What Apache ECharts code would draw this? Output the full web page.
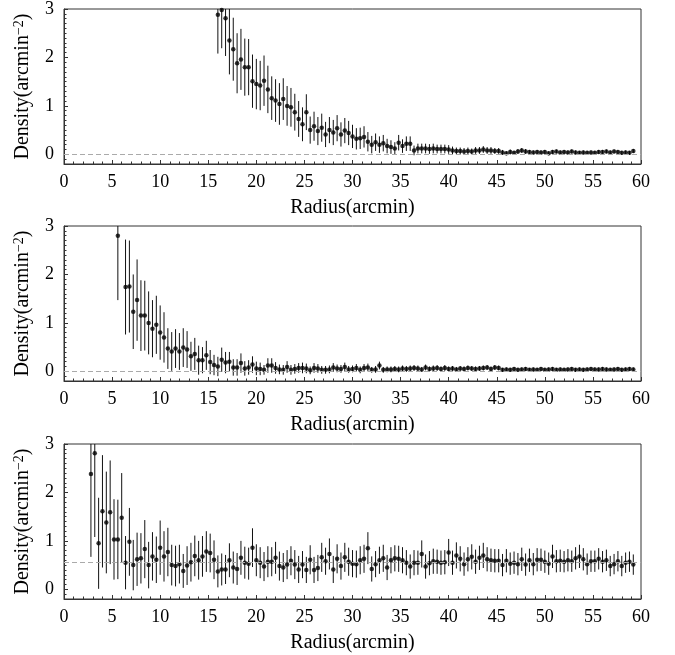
<!DOCTYPE html>
<html>
<head>
<meta charset="utf-8">
<script src="https://cdn.jsdelivr.net/npm/echarts@6/dist/echarts.min.js"></script>
<style>
html,body{margin:0;padding:0;background:#fff;}
#chart{width:675px;height:655px;}
</style>
</head>
<body>
<div id="chart"></div>
<script>
// ---------- DATA ----------
// Panel 1
var radius1 = [
 16.0,16.4,16.8,17.2,17.6,18.0,18.4,18.8,19.2,19.6,
 20.0,20.4,20.8,21.2,21.6,22.0,22.4,22.8,23.2,23.6,
 24.0,24.4,24.8,25.2,25.6,26.0,26.4,26.8,27.2,27.6,
 28.0,28.4,28.8,29.2,29.6,30.0,30.4,30.8,31.2,31.6,
 32.0,32.4,32.8,33.2,33.6,34.0,34.4,34.8,35.2,35.6,
 36.0,36.4,36.8,37.2,37.6,38.0,38.4,38.8,39.2,39.6,
 40.0,40.4,40.8,41.2,41.6,42.0,42.4,42.8,43.2,43.6,
 44.0,44.4,44.8,45.2,45.6,46.0,46.4,46.8,47.2,47.6,
 48.0,48.4,48.8,49.2,49.6,50.0,50.4,50.8,51.2,51.6,
 52.0,52.4,52.8,53.2,53.6,54.0,54.4,54.8,55.2,55.6,
 56.0,56.4,56.8,57.2,57.6,58.0,58.4,58.8,59.2
];
var density1 = [
 2.88,2.98,2.81,2.35,2.17,1.88,1.96,1.80,1.80,1.51,
 1.45,1.42,1.52,1.34,1.16,1.11,1.04,1.14,1.00,0.97,
 0.87,0.73,0.62,0.87,0.50,0.58,0.48,0.55,0.41,0.50,
 0.45,0.54,0.41,0.49,0.44,0.37,0.32,0.33,0.36,0.26,
 0.20,0.25,0.20,0.23,0.17,0.15,0.12,0.24,0.17,0.22,
 0.22,0.08,0.12,0.12,0.12,0.11,0.12,0.11,0.11,0.11,
 0.10,0.08,0.07,0.07,0.06,0.07,0.06,0.08,0.08,0.10,
 0.08,0.08,0.07,0.07,0.04,0.02,0.05,0.03,0.06,0.08,
 0.06,0.05,0.04,0.05,0.04,0.05,0.02,0.05,0.06,0.04,
 0.05,0.04,0.06,0.04,0.03,0.04,0.03,0.04,0.03,0.05,
 0.05,0.06,0.04,0.06,0.05,0.03,0.04,0.03,0.07
];
var error1 = [
 0.80,0.79,0.78,0.70,0.65,0.62,0.63,0.59,0.58,0.55,
 0.52,0.51,0.52,0.49,0.45,0.44,0.43,0.43,0.41,0.40,
 0.38,0.37,0.35,0.37,0.28,0.30,0.29,0.29,0.26,0.27,
 0.26,0.27,0.25,0.26,0.25,0.24,0.22,0.22,0.22,0.20,
 0.18,0.18,0.17,0.17,0.15,0.14,0.13,0.16,0.14,0.15,
 0.15,0.10,0.10,0.10,0.10,0.10,0.10,0.09,0.09,0.09,
 0.09,0.08,0.07,0.07,0.07,0.07,0.06,0.07,0.07,0.07,
 0.07,0.07,0.06,0.06,0.05,0.04,0.05,0.04,0.05,0.05,
 0.05,0.04,0.04,0.04,0.04,0.04,0.04,0.04,0.04,0.04,
 0.04,0.04,0.04,0.04,0.04,0.04,0.04,0.04,0.04,0.04,
 0.04,0.04,0.04,0.04,0.04,0.04,0.04,0.04,0.04
];

// Panel 2
var radius2 = [
 5.6,6.4,6.8,7.2,7.6,8.0,8.4,8.8,9.2,9.6,
 10.0,10.4,10.8,11.2,11.6,12.0,12.4,12.8,13.2,13.6,
 14.0,14.4,14.8,15.2,15.6,16.0,16.4,16.8,17.2,17.6,
 18.0,18.4,18.8,19.2,19.6,20.0,20.4,20.8,21.2,21.6,
 22.0,22.4,22.8,23.2,23.6,24.0,24.4,24.8,25.2,25.6,
 26.0,26.4,26.8,27.2,27.6,28.0,28.4,28.8,29.2,29.6,
 30.0,30.4,30.8,31.2,31.6,32.0,32.4,32.8,33.2,33.6,
 34.0,34.4,34.8,35.2,35.6,36.0,36.4,36.8,37.2,37.6,
 38.0,38.4,38.8,39.2,39.6,40.0,40.4,40.8,41.2,41.6,
 42.0,42.4,42.8,43.2,43.6,44.0,44.4,44.8,45.2,45.6,
 46.0,46.4,46.8,47.2,47.6,48.0,48.4,48.8,49.2,49.6,
 50.0,50.4,50.8,51.2,51.6,52.0,52.4,52.8,53.2,53.6,
 54.0,54.4,54.8,55.2,55.6,56.0,56.4,56.8,57.2,57.6,
 58.0,58.4,58.8,59.2
];
var density2 = [
 2.80,1.74,1.75,1.23,1.47,1.15,1.15,1.00,0.88,0.96,
 0.80,0.70,0.47,0.41,0.47,0.41,0.49,0.45,0.31,0.36,
 0.23,0.23,0.33,0.19,0.13,0.10,0.24,0.18,0.20,0.08,
 0.08,0.17,0.06,0.08,0.14,0.06,0.05,0.03,0.12,0.12,
 0.07,0.04,0.03,0.09,0.03,0.05,0.07,0.07,0.06,0.02,
 0.07,0.06,0.03,0.03,0.04,0.08,0.06,0.05,0.09,0.04,
 0.05,0.07,0.03,0.07,0.08,0.03,0.04,0.12,0.03,0.04,
 0.04,0.05,0.04,0.06,0.05,0.06,0.07,0.06,0.04,0.08,
 0.05,0.06,0.07,0.05,0.07,0.05,0.06,0.04,0.06,0.05,
 0.07,0.06,0.05,0.06,0.07,0.08,0.05,0.08,0.07,0.03,
 0.04,0.03,0.05,0.03,0.04,0.05,0.03,0.04,0.03,0.05,
 0.03,0.04,0.05,0.03,0.04,0.03,0.04,0.05,0.03,0.04,
 0.03,0.04,0.05,0.04,0.04,0.05,0.04,0.03,0.04,0.05,
 0.03,0.04,0.05,0.04
];
var error2 = [
 1.33,0.98,0.95,0.77,0.84,0.73,0.72,0.65,0.59,0.60,
 0.56,0.52,0.42,0.40,0.40,0.38,0.40,0.38,0.30,0.33,
 0.30,0.27,0.30,0.25,0.21,0.20,0.25,0.22,0.20,0.17,
 0.17,0.20,0.15,0.15,0.17,0.14,0.13,0.10,0.15,0.15,
 0.12,0.10,0.10,0.12,0.10,0.10,0.10,0.11,0.10,0.08,
 0.10,0.09,0.08,0.08,0.08,0.09,0.08,0.08,0.09,0.07,
 0.07,0.08,0.07,0.08,0.08,0.06,0.07,0.08,0.06,0.06,
 0.06,0.06,0.06,0.06,0.06,0.06,0.06,0.06,0.05,0.06,
 0.05,0.06,0.06,0.05,0.06,0.05,0.05,0.05,0.05,0.05,
 0.05,0.05,0.05,0.05,0.05,0.05,0.05,0.05,0.05,0.04,
 0.04,0.04,0.04,0.04,0.04,0.04,0.04,0.04,0.04,0.04,
 0.04,0.04,0.04,0.04,0.04,0.04,0.04,0.04,0.04,0.04,
 0.04,0.04,0.04,0.04,0.04,0.04,0.04,0.04,0.04,0.04,
 0.04,0.04,0.04,0.04
];

// Panel 3
var radius3 = [
 2.8,3.2,3.6,4.0,4.4,4.8,5.2,5.6,6.0,6.4,
 6.8,7.2,7.6,8.0,8.4,8.8,9.2,9.6,10.0,10.4,
 10.8,11.2,11.6,12.0,12.4,12.8,13.2,13.6,14.0,14.4,
 14.8,15.2,15.6,16.0,16.4,16.8,17.2,17.6,18.0,18.4,
 18.8,19.2,19.6,20.0,20.4,20.8,21.2,21.6,22.0,22.4,
 22.8,23.2,23.6,24.0,24.4,24.8,25.2,25.6,26.0,26.4,
 26.8,27.2,27.6,28.0,28.4,28.8,29.2,29.6,30.0,30.4,
 30.8,31.2,31.6,32.0,32.4,32.8,33.2,33.6,34.0,34.4,
 34.8,35.2,35.6,36.0,36.4,36.8,37.2,37.6,38.0,38.4,
 38.8,39.2,39.6,40.0,40.4,40.8,41.2,41.6,42.0,42.4,
 42.8,43.2,43.6,44.0,44.4,44.8,45.2,45.6,46.0,46.4,
 46.8,47.2,47.6,48.0,48.4,48.8,49.2,49.6,50.0,50.4,
 50.8,51.2,51.6,52.0,52.4,52.8,53.2,53.6,54.0,54.4,
 54.8,55.2,55.6,56.0,56.4,56.8,57.2,57.6,58.0,58.4,
 58.8,59.2
];
var density3 = [
 2.38,2.81,0.95,1.61,1.38,1.59,1.03,1.03,1.48,0.55,
 0.98,0.50,0.62,0.64,0.83,0.50,0.68,0.61,0.86,0.68,
 0.77,0.50,0.48,0.52,0.38,0.49,0.56,0.69,0.60,0.68,
 0.78,0.75,0.61,0.37,0.41,0.41,0.60,0.45,0.42,0.65,
 0.55,0.53,0.86,0.60,0.55,0.47,0.57,0.57,0.65,0.48,
 0.45,0.51,0.59,0.51,0.41,0.51,0.40,0.61,0.40,0.44,
 0.66,0.58,0.73,0.41,0.63,0.48,0.66,0.57,0.53,0.52,
 0.60,0.63,0.85,0.42,0.52,0.60,0.64,0.45,0.60,0.64,
 0.63,0.60,0.55,0.47,0.55,0.55,0.73,0.47,0.54,0.58,
 0.57,0.55,0.56,0.76,0.55,0.70,0.63,0.52,0.62,0.67,
 0.57,0.65,0.70,0.62,0.60,0.59,0.59,0.50,0.59,0.53,
 0.55,0.52,0.62,0.51,0.60,0.52,0.61,0.61,0.57,0.53,
 0.68,0.58,0.59,0.57,0.60,0.58,0.64,0.68,0.62,0.52,
 0.58,0.58,0.63,0.57,0.60,0.48,0.52,0.58,0.48,0.55,
 0.57,0.51
];
var error3 = [
 1.71,1.73,0.94,1.16,1.05,1.07,0.83,0.82,0.92,0.55,
 0.70,0.52,0.55,0.52,0.60,0.48,0.50,0.48,0.56,0.52,
 0.50,0.42,0.42,0.40,0.35,0.40,0.40,0.42,0.40,0.42,
 0.42,0.40,0.40,0.33,0.33,0.30,0.35,0.33,0.33,0.35,
 0.33,0.33,0.40,0.33,0.32,0.30,0.32,0.30,0.33,0.30,
 0.30,0.30,0.30,0.30,0.28,0.28,0.27,0.30,0.27,0.27,
 0.30,0.28,0.32,0.28,0.30,0.28,0.30,0.29,0.28,0.28,
 0.29,0.29,0.33,0.26,0.27,0.28,0.28,0.26,0.27,0.27,
 0.27,0.27,0.26,0.25,0.26,0.25,0.28,0.25,0.25,0.26,
 0.25,0.25,0.25,0.28,0.25,0.27,0.26,0.24,0.25,0.26,
 0.25,0.25,0.26,0.25,0.24,0.24,0.24,0.23,0.24,0.23,
 0.23,0.23,0.24,0.23,0.24,0.23,0.24,0.23,0.23,0.23,
 0.24,0.23,0.23,0.22,0.23,0.22,0.23,0.24,0.23,0.22,
 0.22,0.22,0.22,0.22,0.22,0.21,0.21,0.21,0.21,0.21,
 0.21,0.21
];

var baselines = [0, 0, 0.55];
var xTickLabels = [0, 5, 10, 15, 20, 25, 30, 35, 40, 45, 50, 55, 60];
var yTickLabels = [0, 1, 2, 3];
var xTitle = 'Radius(arcmin)';
var yTitle = 'Density(arcmin{sup|\u22122})';

// ---------- CHART ----------
var panels = [
  {r: radius1, v: density1, e: error1},
  {r: radius2, v: density2, e: error2},
  {r: radius3, v: density3, e: error3}
];
var gridTops = [9, 226, 444];
var FONT = '"Liberation Serif", "Times New Roman", serif';
var AXIS_COLOR = '#333';
var yMin = -0.2, yMax = 3;

var minorY = [];
for (var t = -2; t <= 30; t++) minorY.push(Math.round(t) / 10);

var grids = [], xAxes = [], yAxes = [], series = [];
panels.forEach(function (p, i) {
  grids.push({
    left: 64, top: gridTops[i], width: 577, height: 155,
    show: true, borderColor: AXIS_COLOR, borderWidth: 1, backgroundColor: 'transparent'
  });
  xAxes.push({
    type: 'value', gridIndex: i, min: 0, max: 60, interval: 5, position: 'bottom',
    name: xTitle, nameLocation: 'middle', nameGap: 34,
    nameTextStyle: {fontFamily: FONT, fontSize: 20, color: '#000'},
    axisLine: {show: true, onZero: false, lineStyle: {color: AXIS_COLOR, width: 1}},
    axisTick: {show: true, inside: true, length: 4, lineStyle: {color: AXIS_COLOR}},
    minorTick: {show: true, splitNumber: 5, length: 2.5, lineStyle: {color: AXIS_COLOR}},
    axisLabel: {fontFamily: FONT, fontSize: 18, color: '#000', margin: 9,
      customValues: xTickLabels},
    splitLine: {show: false}
  });
  yAxes.push({
    type: 'value', gridIndex: i, min: yMin, max: yMax, position: 'left',
    name: yTitle, nameLocation: 'middle', nameGap: 27,
    nameTextStyle: {fontFamily: FONT, fontSize: 20, color: '#000', lineHeight: 22,
      rich: {sup: {fontFamily: FONT, fontSize: 14, color: '#000', verticalAlign: 'top', lineHeight: 22}}},
    axisLine: {show: true, onZero: false, lineStyle: {color: AXIS_COLOR, width: 1}},
    axisTick: {show: true, inside: true, length: 4, customValues: yTickLabels, lineStyle: {color: AXIS_COLOR}},
    axisLabel: {fontFamily: FONT, fontSize: 18, color: '#000', margin: 10, customValues: yTickLabels},
    splitLine: {show: false}
  });
  yAxes.push({
    type: 'value', gridIndex: i, min: yMin, max: yMax, position: 'left', offset: 0,
    axisLine: {show: false, onZero: false},
    axisTick: {show: true, inside: true, length: 2.5, customValues: minorY, lineStyle: {color: AXIS_COLOR}},
    axisLabel: {show: false},
    splitLine: {show: false}
  });

  var barData = [], ptData = [];
  for (var k = 0; k < p.r.length; k++) {
    barData.push([p.r[k], p.v[k] - p.e[k], p.v[k] + p.e[k]]);
    ptData.push([p.r[k], p.v[k]]);
  }
  series.push({
    type: 'custom', xAxisIndex: i, yAxisIndex: 2 * i, clip: true, silent: true,
    encode: {x: 0, y: [1, 2]},
    data: barData, z: 2,
    renderItem: function (params, api) {
      var x = api.value(0);
      var a = api.coord([x, api.value(1)]);
      var b = api.coord([x, api.value(2)]);
      return {type: 'line', shape: {x1: a[0], y1: a[1], x2: b[0], y2: b[1]},
        style: {stroke: '#111', lineWidth: 1}};
    }
  });
  series.push({
    type: 'scatter', xAxisIndex: i, yAxisIndex: 2 * i, data: ptData,
    symbol: 'circle', symbolSize: 4.5, itemStyle: {color: '#000'}, z: 3, silent: true,
    markLine: {
      silent: true, symbol: 'none', label: {show: false}, animation: false,
      lineStyle: {color: '#aaaaaa', type: [5, 3], width: 1},
      data: [{yAxis: baselines[i]}]
    }
  });
});

var chart = echarts.init(document.getElementById('chart'), null, {renderer: 'canvas'});
chart.setOption({
  animation: false,
  backgroundColor: '#fff',
  grid: grids, xAxis: xAxes, yAxis: yAxes, series: series
});
</script>
</body>
</html>
